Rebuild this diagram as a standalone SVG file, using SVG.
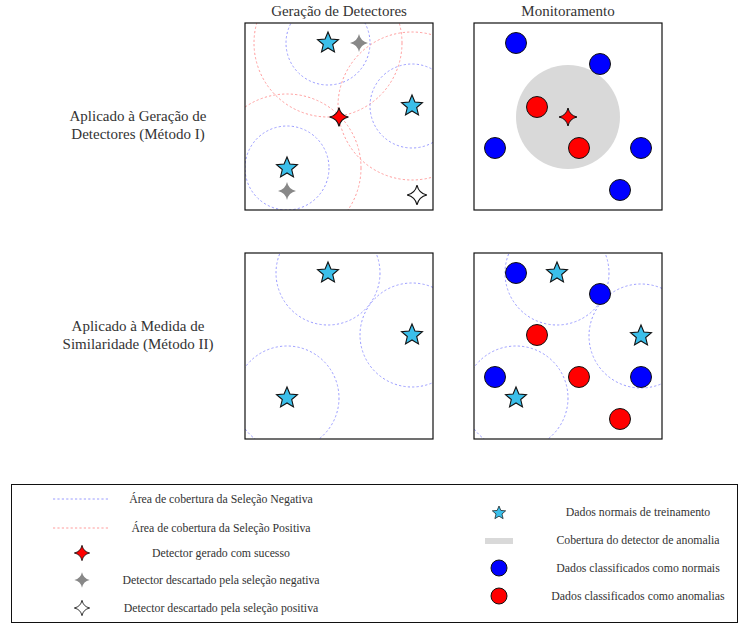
<svg xmlns="http://www.w3.org/2000/svg" width="739" height="624" viewBox="0 0 739 624">
<style>
text{font-family:"Liberation Serif","DejaVu Serif",serif;fill:#333}
.t14{font-size:15px}
.t11{font-size:11.8px}
.box{fill:none;stroke:#111;stroke-width:1.2}
.neg{fill:none;stroke:#9a9cff;stroke-width:1;stroke-dasharray:2.2 2.2}
.pos{fill:none;stroke:#ff9c9c;stroke-width:1;stroke-dasharray:2.2 2.2}
.ns{fill:#3BBFEA;stroke:#111;stroke-width:1}
.bl{fill:#0000ff;stroke:#111;stroke-width:1}
.rd{fill:#ff0000;stroke:#111;stroke-width:1}
</style>
<defs>
<path id="star" d="M0,-10 L2.645,-3.641 L9.511,-3.090 L4.280,1.391 L5.878,8.090 L0,4.5 L-5.878,8.090 L-4.280,1.391 L-9.511,-3.090 L-2.645,-3.641 Z"/>
<path id="det" d="M0,-9 Q1.6,-1.6 9,0 Q1.6,1.6 0,9 Q-1.6,1.6 -9,0 Q-1.6,-1.6 0,-9 Z"/>
<clipPath id="cTL"><rect x="245" y="23" width="188" height="187"/></clipPath>
<clipPath id="cBL"><rect x="245" y="253" width="188" height="186"/></clipPath>
<clipPath id="cBR"><rect x="474" y="253" width="188" height="186"/></clipPath>
</defs>
<rect width="739" height="624" fill="#fff"/>

<g id="titles">
<text class="t14" x="339" y="16" text-anchor="middle">Geração de Detectores</text>
<text class="t14" x="568" y="16" text-anchor="middle">Monitoramento</text>
<text class="t14" x="138" y="121" text-anchor="middle">Aplicado à Geração de</text>
<text class="t14" x="138" y="139" text-anchor="middle">Detectores (Método I)</text>
<text class="t14" x="138" y="331" text-anchor="middle">Aplicado à Medida de</text>
<text class="t14" x="138" y="349" text-anchor="middle">Similaridade (Método II)</text>
</g>

<g id="panel-generation">
<g clip-path="url(#cTL)">
<circle class="pos" cx="328" cy="43" r="74"/>
<circle class="pos" cx="412" cy="106" r="74"/>
<circle class="pos" cx="287" cy="168" r="74"/>
<circle class="neg" cx="328" cy="43" r="42"/>
<circle class="neg" cx="412" cy="106" r="42"/>
<circle class="neg" cx="287" cy="168" r="42"/>
</g>
<use href="#star" class="ns" transform="translate(328,43) scale(1.1)"/>
<use href="#star" class="ns" transform="translate(412,106) scale(1.1)"/>
<use href="#star" class="ns" transform="translate(287,168) scale(1.1)"/>
<use href="#det" fill="#888" transform="translate(359,43)"/>
<use href="#det" fill="#888" transform="translate(287,191)"/>
<use href="#det" fill="#ff0000" stroke="#111" stroke-width="1" transform="translate(339,117) scale(1.05)"/>
<use href="#det" fill="#fff" stroke="#111" stroke-width="1" transform="translate(417,195) scale(1.1)"/>
<rect class="box" x="245" y="23" width="188" height="187"/>
</g>

<g id="panel-monitoring-1">
<circle cx="568" cy="117" r="52" fill="#d9d9d9"/>
<circle class="bl" cx="516" cy="43" r="10.5"/>
<circle class="bl" cx="600" cy="64" r="10.5"/>
<circle class="bl" cx="495" cy="148" r="10.5"/>
<circle class="bl" cx="641" cy="148" r="10.5"/>
<circle class="bl" cx="620" cy="190" r="10.5"/>
<circle class="rd" cx="537" cy="107" r="10.5"/>
<circle class="rd" cx="579" cy="148" r="10.5"/>
<use href="#det" fill="#ff0000" stroke="#111" stroke-width="1" transform="translate(568,117)"/>
<rect class="box" x="474" y="23" width="188" height="187"/>
</g>

<g id="panel-similarity">
<g clip-path="url(#cBL)">
<circle class="neg" cx="328" cy="273" r="52"/>
<circle class="neg" cx="412" cy="335" r="52"/>
<circle class="neg" cx="287" cy="398" r="52"/>
</g>
<use href="#star" class="ns" transform="translate(328,273) scale(1.1)"/>
<use href="#star" class="ns" transform="translate(412,335) scale(1.1)"/>
<use href="#star" class="ns" transform="translate(287,398) scale(1.1)"/>
<rect class="box" x="245" y="253" width="188" height="186"/>
</g>

<g id="panel-monitoring-2">
<g clip-path="url(#cBR)">
<circle class="neg" cx="557" cy="273" r="52"/>
<circle class="neg" cx="641" cy="336" r="52"/>
<circle class="neg" cx="516" cy="398" r="52"/>
</g>
<circle class="bl" cx="516" cy="273" r="10.5"/>
<circle class="bl" cx="600" cy="294" r="10.5"/>
<circle class="bl" cx="495" cy="377" r="10.5"/>
<circle class="bl" cx="641" cy="377" r="10.5"/>
<circle class="rd" cx="537" cy="335" r="10.5"/>
<circle class="rd" cx="579" cy="377" r="10.5"/>
<circle class="rd" cx="620" cy="419" r="10.5"/>
<use href="#star" class="ns" transform="translate(557,273) scale(1.1)"/>
<use href="#star" class="ns" transform="translate(641,336) scale(1.1)"/>
<use href="#star" class="ns" transform="translate(516,398) scale(1.1)"/>
<rect class="box" x="474" y="253" width="188" height="186"/>
</g>

<g id="connectors"></g>

<g id="legend">
<rect x="11.5" y="484.5" width="726" height="138" fill="none" stroke="#111" stroke-width="1"/>
<line class="neg" x1="53" y1="499" x2="108" y2="499"/>
<text class="t11" x="221" y="503" text-anchor="middle">Área de cobertura da Seleção Negativa</text>
<line class="pos" x1="53" y1="528" x2="108" y2="528"/>
<text class="t11" x="221" y="532" text-anchor="middle">Área de cobertura da Seleção Positiva</text>
<use href="#det" fill="#ff0000" stroke="#111" stroke-width="1" transform="translate(82,553) scale(0.85)"/>
<text class="t11" x="221" y="557" text-anchor="middle">Detector gerado com sucesso</text>
<use href="#det" fill="#888" transform="translate(82,580) scale(0.85)"/>
<text class="t11" x="221" y="584" text-anchor="middle">Detector descartado pela seleção negativa</text>
<use href="#det" fill="#fff" stroke="#111" stroke-width="1" transform="translate(82,608) scale(0.85)"/>
<text class="t11" x="221" y="612" text-anchor="middle">Detector descartado pela seleção positiva</text>
<use href="#star" class="ns" transform="translate(499,513) scale(0.7)"/>
<text class="t11" x="638" y="516" text-anchor="middle">Dados normais de treinamento</text>
<rect x="485" y="538" width="28" height="6" fill="#d9d9d9"/>
<text class="t11" x="638" y="544" text-anchor="middle">Cobertura do detector de anomalia</text>
<circle class="bl" cx="499" cy="568" r="8"/>
<text class="t11" x="638" y="572" text-anchor="middle">Dados classificados como normais</text>
<circle class="rd" cx="499" cy="596" r="8"/>
<text class="t11" x="638" y="600" text-anchor="middle">Dados classificados como anomalias</text>
</g>
</svg>
